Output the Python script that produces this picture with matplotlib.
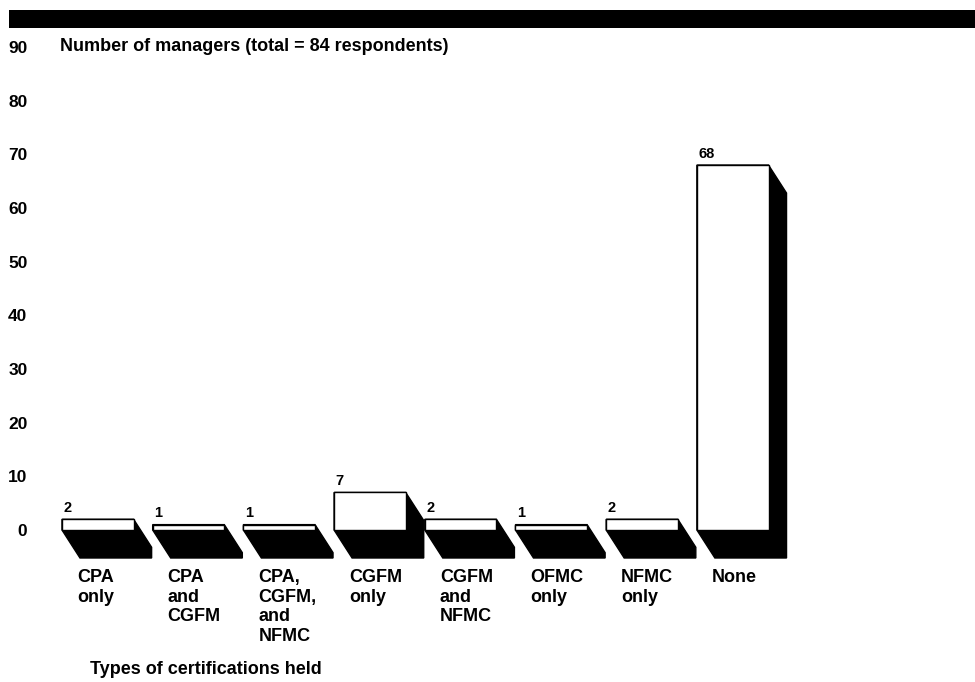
import matplotlib
matplotlib.use("Agg")
import matplotlib.pyplot as plt
from matplotlib.patches import Polygon, Rectangle

plt.rcParams['font.family'] = ['Liberation Sans', 'DejaVu Sans']
plt.rcParams['font.weight'] = 'bold'

categories = ["CPA\nonly", "CPA\nand\nCGFM", "CPA,\nCGFM,\nand\nNFMC", "CGFM\nonly",
              "CGFM\nand\nNFMC", "OFMC\nonly", "NFMC\nonly", "None"]
values = [2, 1, 1, 7, 2, 1, 2, 68]
yticks = [0, 10, 20, 30, 40, 50, 60, 70, 80, 90]

W, H = 975, 682
fig = plt.figure(figsize=(W / 100, H / 100), dpi=100)

# black band at top
fig.patches.append(Rectangle((9 / W, 1 - 28 / H), 1 - 9 / W, 18 / H,
                             transform=fig.transFigure, facecolor='black',
                             edgecolor='none'))

# axes in pixel layout
ax_l, ax_r, ax_b, ax_t = 40, 975, 120, 650
ax = fig.add_axes([ax_l / W, ax_b / H, (ax_r - ax_l) / W, (ax_t - ax_b) / H])
px_y = 5.367   # pixels per unit
px_x = 90.7    # pixels per category
y0_pix = 152
x0_pix = 97.8
ax.set_ylim((ax_b - y0_pix) / px_y, (ax_t - y0_pix) / px_y)
ax.set_xlim((ax_l - x0_pix) / px_x, (ax_r - x0_pix) / px_x)
for s in ax.spines.values():
    s.set_visible(False)

width = 0.79
dx = 18 / px_x
dy = 28 / px_y

for i, v in enumerate(values):
    L = i - width / 2
    R = i + width / 2
    shadow = Polygon([(L, 0), (L + dx, -dy), (R + dx, -dy), (R + dx, v - dy),
                      (R, v), (L, v)], closed=True, facecolor='black',
                     edgecolor='black', lw=1, zorder=1, clip_on=False)
    ax.add_patch(shadow)
    ax.add_patch(Rectangle((L, 0), width, v, facecolor='white',
                           edgecolor='black', lw=1, zorder=2, clip_on=False))
    ax.annotate(str(v), (L, v), xytext=(1, 3), textcoords='offset points',
                ha='left', va='bottom', fontsize=10.5, fontweight='bold')

ax.set_yticks(yticks)
ax.set_yticklabels([str(t) for t in yticks], fontsize=12.5, fontweight='bold')
ax.tick_params(axis='y', length=0, pad=9)

ax.set_xticks([i - width / 2 + 15 / px_x for i in range(len(values))])
ax.set_xticklabels(categories, fontsize=13, fontweight='bold', ha='left',
                   va='top', linespacing=1.2)
ax.tick_params(axis='x', length=0, pad=5)

ax.text(-width / 2 - 2 / px_x, 90, "Number of managers (total = 84 respondents)",
        ha='left', va='center', fontsize=13, fontweight='bold')

fig.text(90 / W, 12 / H, "Types of certifications held", ha='left',
         va='center', fontsize=13, fontweight='bold')

fig.savefig("out.png", dpi=100)
